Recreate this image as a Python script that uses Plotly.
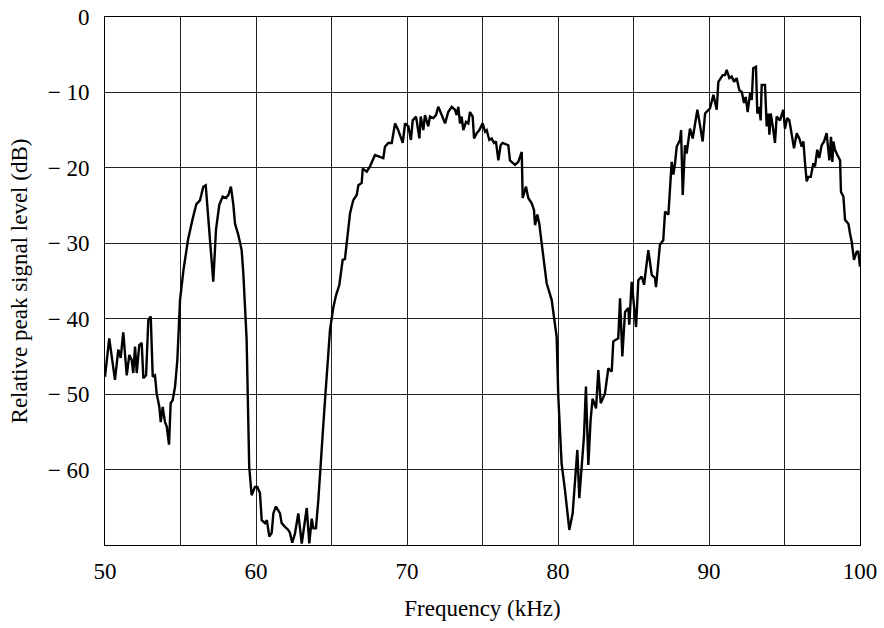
import plotly.graph_objects as go

freq_khz = [
    50.00, 50.28, 50.66, 50.88, 51.04, 51.21, 51.44, 51.61, 51.77, 51.87, 51.99, 52.10, 52.27, 52.43,
    52.54, 52.72, 52.87, 53.03, 53.16, 53.31, 53.42, 53.60, 53.69, 53.82, 53.97, 54.09, 54.24, 54.35,
    54.48, 54.64, 54.79, 54.97, 55.20, 55.50, 55.80, 56.05, 56.29, 56.51, 56.67, 56.84, 57.02, 57.17,
    57.35, 57.57, 57.79, 58.01, 58.17, 58.34, 58.50, 58.61, 58.83, 59.05, 59.16, 59.27, 59.38, 59.55,
    59.71, 59.93, 60.09, 60.26, 60.38, 60.60, 60.72, 60.88, 61.04, 61.15, 61.32, 61.59, 61.70, 61.92,
    62.14, 62.25, 62.40, 62.58, 62.80, 63.03, 63.18, 63.36, 63.53, 63.69, 63.80, 63.97, 64.13, 64.28,
    64.42, 64.57, 64.75, 64.90, 65.12, 65.30, 65.52, 65.74, 65.89, 66.01, 66.23, 66.34, 66.44, 66.67,
    66.78, 67.00, 67.07, 67.33, 67.55, 67.88, 68.21, 68.43, 68.54, 68.76, 68.99, 69.21, 69.42, 69.58,
    69.72, 69.87, 70.09, 70.26, 70.38, 70.60, 70.82, 70.91, 71.08, 71.19, 71.41, 71.52, 71.74, 71.92,
    72.07, 72.30, 72.52, 72.73, 72.96, 73.18, 73.29, 73.40, 73.51, 73.62, 73.73, 73.91, 74.06, 74.17,
    74.35, 74.44, 74.62, 74.79, 75.01, 75.17, 75.28, 75.45, 75.61, 75.76, 75.89, 76.05, 76.20, 76.33,
    76.71, 76.82, 77.15, 77.37, 77.60, 77.66, 77.88, 78.03, 78.26, 78.41, 78.48, 78.63, 78.76, 79.03,
    79.25, 79.58, 79.80, 79.91, 80.02, 80.24, 80.46, 80.75, 80.97, 81.13, 81.28, 81.41, 81.57, 81.72,
    81.85, 82.01, 82.16, 82.29, 82.52, 82.67, 82.83, 83.11, 83.33, 83.56, 83.66, 83.99, 84.11, 84.26,
    84.44, 84.66, 84.72, 84.88, 85.17, 85.32, 85.54, 85.70, 85.98, 86.21, 86.42, 86.49, 86.75, 86.97,
    87.09, 87.31, 87.53, 87.64, 87.75, 87.86, 88.08, 88.15, 88.26, 88.41, 88.52, 88.74, 88.92, 89.23,
    89.40, 89.58, 89.74, 90.07, 90.29, 90.51, 90.62, 90.78, 90.91, 91.06, 91.17, 91.35, 91.50, 91.66,
    91.83, 92.01, 92.17, 92.32, 92.43, 92.56, 92.72, 92.83, 92.93, 93.11, 93.20, 93.33, 93.42, 93.49,
    93.71, 93.82, 93.93, 94.00, 94.09, 94.26, 94.37, 94.48, 94.70, 94.81, 94.92, 95.03, 95.18, 95.32,
    95.48, 95.63, 95.81, 95.98, 96.14, 96.25, 96.36, 96.47, 96.58, 96.74, 96.91, 97.02, 97.17, 97.30,
    97.46, 97.62, 97.79, 97.90, 97.97, 98.08, 98.17, 98.24, 98.34, 98.50, 98.68, 98.74, 98.90, 99.01,
    99.23, 99.34, 99.45, 99.60, 99.78, 99.89, 100.00,
]

level_db = [
    -47.7, -42.6, -48.1, -44.1, -45.2, -41.8, -47.5, -44.8, -45.5, -47.2, -43.7, -47.2, -43.5, -43.2,
    -47.9, -47.5, -40.2, -39.7, -47.7, -47.5, -49.9, -51.7, -53.7, -51.7, -53.7, -54.3, -56.7, -51.2,
    -50.8, -49.0, -45.5, -37.5, -33.5, -29.5, -26.8, -24.8, -24.3, -22.5, -22.3, -26.9, -30.5, -35.1,
    -28.2, -24.9, -23.8, -24.0, -23.6, -22.5, -24.9, -27.4, -28.9, -30.9, -34.0, -38.4, -42.8, -59.6,
    -63.4, -62.3, -62.3, -63.1, -66.7, -67.1, -66.7, -68.9, -68.4, -65.8, -64.9, -65.8, -67.1, -67.6,
    -68.0, -68.4, -69.7, -68.5, -65.8, -69.8, -67.6, -65.1, -69.8, -66.5, -67.8, -67.8, -64.0, -60.1,
    -55.2, -50.8, -45.5, -41.5, -38.5, -36.9, -35.5, -32.2, -32.1, -30.2, -26.0, -25.1, -24.3, -23.6,
    -22.3, -22.0, -20.1, -20.5, -19.8, -18.3, -18.5, -18.7, -17.2, -16.7, -16.7, -14.1, -15.0, -15.9,
    -16.7, -14.1, -14.5, -16.3, -13.7, -13.2, -16.1, -13.2, -15.0, -13.0, -14.5, -13.2, -13.4, -13.0,
    -11.9, -13.0, -14.1, -12.6, -11.9, -12.3, -13.0, -11.9, -14.1, -13.2, -15.0, -13.9, -14.1, -12.6,
    -13.2, -16.1, -15.4, -15.0, -14.1, -15.2, -15.0, -16.3, -16.1, -16.7, -16.5, -19.0, -17.0, -16.7,
    -17.0, -19.0, -19.6, -19.2, -17.9, -24.0, -22.5, -24.0, -24.7, -25.6, -27.6, -26.2, -27.4, -31.8,
    -35.3, -37.5, -40.6, -42.4, -50.3, -59.2, -62.7, -68.0, -65.8, -60.9, -57.4, -63.8, -60.1, -55.6,
    -49.0, -59.4, -53.4, -50.6, -51.9, -46.8, -51.2, -49.9, -46.6, -47.0, -43.0, -42.6, -37.3, -45.0,
    -39.1, -38.6, -40.8, -35.1, -41.1, -34.9, -34.4, -35.5, -30.9, -34.2, -34.6, -35.8, -30.2, -29.6,
    -25.8, -26.2, -19.2, -20.9, -19.4, -17.2, -16.3, -15.0, -23.6, -17.0, -18.1, -14.8, -16.1, -12.3,
    -14.3, -16.5, -12.8, -12.1, -10.3, -12.3, -8.6, -8.1, -7.7, -7.7, -7.0, -8.1, -7.9, -8.6,
    -8.1, -9.7, -9.9, -11.4, -10.6, -12.6, -10.1, -11.0, -6.8, -6.6, -12.8, -11.9, -13.7, -9.0,
    -9.0, -14.5, -12.8, -15.6, -12.8, -15.0, -16.7, -13.2, -13.7, -13.0, -12.3, -14.8, -13.4, -13.7,
    -15.9, -17.4, -15.4, -16.1, -17.2, -16.5, -19.4, -21.8, -21.2, -21.2, -19.4, -19.8, -17.6, -18.7,
    -17.0, -16.5, -15.4, -18.1, -19.0, -15.9, -19.2, -16.5, -17.6, -18.3, -19.0, -23.2, -23.8, -26.9,
    -27.4, -28.7, -29.8, -32.2, -31.1, -31.1, -33.1,
]

x_tick_vals = [50, 60, 70, 80, 90, 100]
x_tick_text = ["50", "60", "70", "80", "90", "100"]
y_tick_vals = [0, -10, -20, -30, -40, -50, -60]
y_tick_text = ["0", "\u2212 10", "\u2212 20", "\u2212 30", "\u2212 40", "\u2212 50", "\u2212 60"]

font_family = "Liberation Serif"
font_size = 23

fig = go.Figure()
fig.add_trace(go.Scatter(
    x=freq_khz, y=level_db, mode="lines",
    line=dict(color="black", width=2.4),
    showlegend=False, hoverinfo="skip",
))

fig.update_layout(
    width=884, height=628,
    margin=dict(l=105, r=24, t=17, b=83, autoexpand=False),
    paper_bgcolor="white", plot_bgcolor="white",
    font=dict(family=font_family, size=font_size, color="black"),
)

fig.update_xaxes(
    range=[50, 100], automargin=False,
    tickvals=x_tick_vals, ticktext=x_tick_text,
    tickfont=dict(family=font_family, size=font_size, color="black"),
    ticks="", ticklabelstandoff=5,
    showgrid=False, zeroline=False,
    showline=True, linecolor="black", linewidth=1, mirror=True,
    title=dict(text="Frequency (kHz)", font=dict(size=font_size, family=font_family, color="black"), standoff=17),
    minor=dict(dtick=5, tick0=50, showgrid=True, gridcolor="#222222", gridwidth=1),
)
fig.update_yaxes(
    range=[-70, 0], automargin=False,
    tickvals=y_tick_vals, ticktext=y_tick_text,
    tickfont=dict(family=font_family, size=font_size, color="black"),
    ticks="", ticklabelstandoff=10,
    showgrid=True, gridcolor="#222222", gridwidth=1,
    zeroline=False,
    showline=True, linecolor="black", linewidth=1, mirror=True,
    title=dict(text="Relative peak signal level (dB)", font=dict(size=font_size, family=font_family, color="black"), standoff=13),
)

fig.write_html("out.html")
